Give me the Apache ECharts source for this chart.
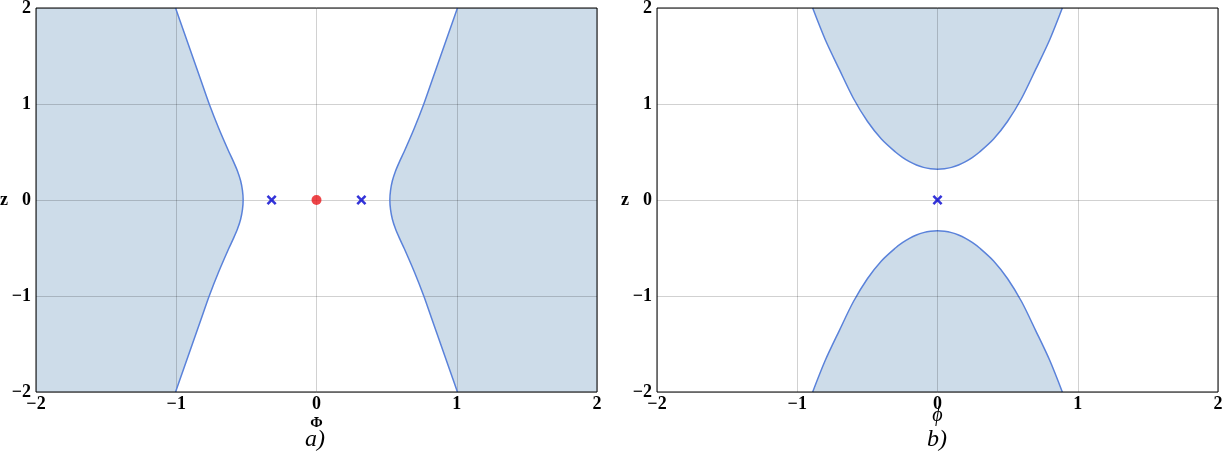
<!DOCTYPE html>
<html>
<head>
<meta charset="utf-8">
<script src="https://cdn.jsdelivr.net/npm/echarts@6/dist/echarts.min.js"></script>
<style>
html,body{margin:0;padding:0;background:#fff;}
#chart{width:1224px;height:463px;}
</style>
</head>
<body>
<div id="chart"></div>
<script>
// ---- data ----
// panel a): boundary phi(z)
const zLevels   = [-2, -1.75, -1.5, -1.25, -1, -0.75, -0.5, -0.4, -0.3, -0.2, -0.1, 0, 0.1, 0.2, 0.3, 0.4, 0.5, 0.75, 1, 1.25, 1.5, 1.75, 2];
const rightPhiA = [1.005, 0.945, 0.885, 0.825, 0.765, 0.698, 0.624, 0.592, 0.563, 0.541, 0.528, 0.523, 0.528, 0.541, 0.563, 0.592, 0.624, 0.698, 0.765, 0.825, 0.885, 0.945, 1.005];
const leftPhiA  = [-1.005, -0.945, -0.885, -0.825, -0.765, -0.698, -0.624, -0.592, -0.563, -0.541, -0.528, -0.523, -0.528, -0.541, -0.563, -0.592, -0.624, -0.698, -0.765, -0.825, -0.885, -0.945, -1.005];
const crossesA  = [[-0.32, 0], [0.32, 0]];
const dotA      = [[0, 0]];
// panel b): boundary z(phi)
const phiGrid   = [-0.89, -0.8, -0.7, -0.6, -0.5, -0.4, -0.3, -0.25, -0.2, -0.15, -0.1, -0.05, 0, 0.05, 0.1, 0.15, 0.2, 0.25, 0.3, 0.4, 0.5, 0.6, 0.7, 0.8, 0.89];
const upperZB   = [2.0, 1.67, 1.36, 1.06, 0.82, 0.635, 0.50, 0.445, 0.400, 0.365, 0.340, 0.325, 0.320, 0.325, 0.340, 0.365, 0.400, 0.445, 0.50, 0.635, 0.82, 1.06, 1.36, 1.67, 2.0];
const lowerZB   = [-2.0, -1.67, -1.36, -1.06, -0.82, -0.635, -0.50, -0.445, -0.400, -0.365, -0.340, -0.325, -0.320, -0.325, -0.340, -0.365, -0.400, -0.445, -0.50, -0.635, -0.82, -1.06, -1.36, -1.67, -2.0];
const crossesB  = [[0, 0]];

// ---- styles ----
const FONT = '"Liberation Serif","DejaVu Serif",serif';
const FILL = '#cddce9';
const LINE = '#5a82da';
const GRIDC = 'rgba(0,0,0,0.18)';
const CROSS = 'path://M0,1.8L1.8,0L5,3.2L8.2,0L10,1.8L6.8,5L10,8.2L8.2,10L5,6.8L1.8,10L0,8.2L3.2,5Z';

function fmt(v){ return v < 0 ? '\u2212' + Math.abs(v) : String(v); }

function xAxisCfg(gi, name, italic){
  return {
    type: 'value', gridIndex: gi, min: -2, max: 2, interval: 1, z: 5,
    name: name, nameLocation: 'middle', nameGap: italic ? 14 : 24, nameMoveOverlap: false,
    nameTextStyle: {fontFamily: FONT, fontSize: italic ? 20 : 15, fontWeight: italic ? 'normal' : 'bold', fontStyle: italic ? 'italic' : 'normal', color: '#000'},
    axisLine: {show: false},
    axisTick: {show: false},
    axisLabel: {fontFamily: FONT, fontSize: 18, fontWeight: 'bold', color: '#000', margin: 3, formatter: fmt},
    splitLine: {show: true, lineStyle: {color: GRIDC, width: 1}}
  };
}
function yAxisCfg(gi){
  return {
    type: 'value', gridIndex: gi, min: -2, max: 2, interval: 1, z: 5,
    name: 'z', nameLocation: 'middle', nameGap: 28, nameRotate: 0, nameMoveOverlap: false,
    nameTextStyle: {fontFamily: FONT, fontSize: 18, fontWeight: 'bold', color: '#000'},
    axisLine: {show: false},
    axisTick: {show: false},
    axisLabel: {fontFamily: FONT, fontSize: 18, fontWeight: 'bold', color: '#000', margin: 5, formatter: fmt},
    splitLine: {show: true, lineStyle: {color: GRIDC, width: 1}}
  };
}

// polygons for panel a) (built from boundary arrays)
const leftPoly = [[-3, -2]].concat(zLevels.map((z, i) => [leftPhiA[i], z])).concat([[-3, 2]]);
const rightPoly = [[3, -2]].concat(zLevels.map((z, i) => [rightPhiA[i], z])).concat([[3, 2]]);
const polysA = [leftPoly, rightPoly];

const chart = echarts.init(document.getElementById('chart'), null, {renderer: 'canvas'});
chart.setOption({
  animation: false,
  backgroundColor: '#fff',
  grid: [
    {left: 36, top: 8, width: 561, height: 384, show: true, borderColor: '#000', borderWidth: 1, backgroundColor: 'transparent', z: 8, containLabel: false, outerBoundsMode: 'none'},
    {left: 657, top: 8, width: 561, height: 384, show: true, borderColor: '#000', borderWidth: 1, backgroundColor: 'transparent', z: 8, containLabel: false, outerBoundsMode: 'none'}
  ],
  xAxis: [xAxisCfg(0, '\u03A6', false), xAxisCfg(1, '\u03D5', true)],
  yAxis: [yAxisCfg(0), yAxisCfg(1)],
  graphic: [
    {type: 'text', left: 305, top: 428, z: 10, style: {text: 'a)', font: 'italic 24px ' + FONT, fill: '#000'}},
    {type: 'text', left: 927, top: 428, z: 10, style: {text: 'b)', font: 'italic 24px ' + FONT, fill: '#000'}}
  ],
  series: [
    {
      type: 'custom', xAxisIndex: 0, yAxisIndex: 0, clip: true,
      data: [[0], [1]],
      renderItem: function(params, api){
        const poly = polysA[api.value(0)];
        return {type: 'polygon', shape: {points: poly.map(p => api.coord(p))}, style: {fill: FILL, stroke: null}};
      },
      z: 2
    },
    {type: 'line', xAxisIndex: 0, yAxisIndex: 0, data: zLevels.map((z, i) => [leftPhiA[i], z]), smooth: 0.25, showSymbol: false, lineStyle: {color: LINE, width: 1.5}, z: 6},
    {type: 'line', xAxisIndex: 0, yAxisIndex: 0, data: zLevels.map((z, i) => [rightPhiA[i], z]), smooth: 0.25, showSymbol: false, lineStyle: {color: LINE, width: 1.5}, z: 6},
    {type: 'scatter', xAxisIndex: 0, yAxisIndex: 0, data: crossesA, symbol: CROSS, symbolSize: 10, itemStyle: {color: '#0000d0'}, z: 7},
    {type: 'scatter', xAxisIndex: 0, yAxisIndex: 0, data: dotA, symbol: 'circle', symbolSize: 10, itemStyle: {color: '#e8161c'}, z: 7},

    {type: 'line', xAxisIndex: 1, yAxisIndex: 1, data: phiGrid.map((p, i) => [p, upperZB[i]]), smooth: 0.3, showSymbol: false,
     lineStyle: {color: LINE, width: 1.5}, areaStyle: {color: FILL, origin: 'end', opacity: 1}, z: 2},
    {type: 'line', xAxisIndex: 1, yAxisIndex: 1, data: phiGrid.map((p, i) => [p, lowerZB[i]]), smooth: 0.3, showSymbol: false,
     lineStyle: {color: LINE, width: 1.5}, areaStyle: {color: FILL, origin: 'start', opacity: 1}, z: 2},
    {type: 'scatter', xAxisIndex: 1, yAxisIndex: 1, data: crossesB, symbol: CROSS, symbolSize: 10, itemStyle: {color: '#0000d0'}, z: 7}
  ]
});
</script>
</body>
</html>
